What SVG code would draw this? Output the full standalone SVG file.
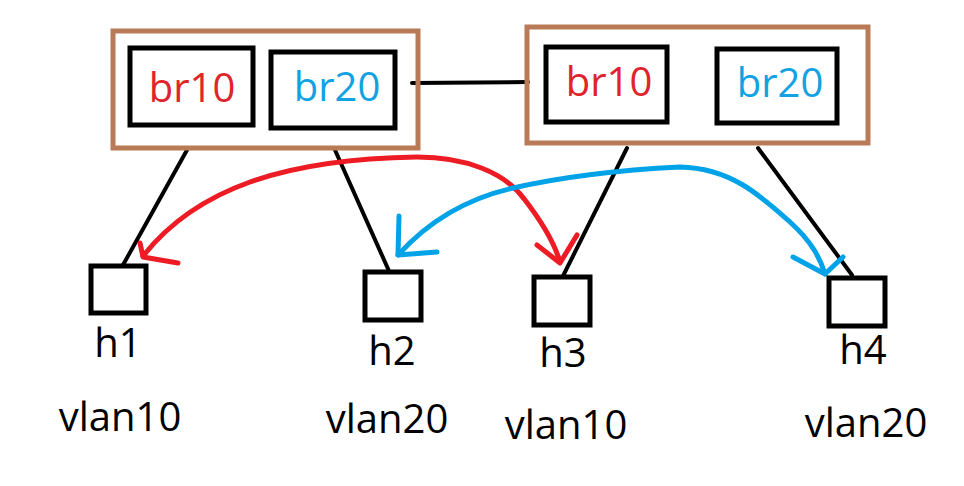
<svg xmlns="http://www.w3.org/2000/svg" width="964" height="486" viewBox="0 0 964 486">
<style>
.outer{fill:none;stroke:#B97A57;stroke-width:5}
.box{fill:#fff;stroke:#000;stroke-width:5}
.link{fill:none;stroke:#000;stroke-width:4;stroke-linecap:round}
.red{fill:none;stroke:#ED1C24;stroke-width:5;stroke-linecap:round;stroke-linejoin:round}
.blue{fill:none;stroke:#00A2E8;stroke-width:5;stroke-linecap:round;stroke-linejoin:round}
text{font-family:"Open Sans","Noto Sans","Liberation Sans",sans-serif;font-size:40px;text-anchor:middle}
.tr{fill:#E0242C}
.tb{fill:#12A2E2}
.tk{fill:#000}
</style>
<rect width="964" height="486" fill="#fff"/>
<g id="connectors">
<line class="link" x1="412" y1="83" x2="528" y2="82"/>
<line class="link" x1="187" y1="150" x2="123" y2="265"/>
<line class="link" x1="335" y1="150" x2="389" y2="271"/>
<line class="link" x1="627" y1="148" x2="562" y2="278"/>
<line class="link" x1="758" y1="148" x2="852" y2="275"/>
<path class="red" d="M143,256 C170,222 205,198 250,182 S350,158 417,157 C465,157 505,172 525,200 C545,226 555,245 560,262"/>
<path class="red" d="M140,243 L143,257 L178,263 M537,245 L560,263 L577,235"/>
<path class="blue" d="M398,255 C425,225 460,200 513,188 S620,170 680,167 C730,168 760,195 790,222 C812,242 820,258 825,274"/>
<path class="blue" d="M399,216 L398,255 L437,252 M793,257 L825,274 L843,257"/>
</g>
<g id="switch1">
<rect class="outer" x="113" y="31" width="305" height="117"/>
<g id="s1-br10"><rect class="box" x="130" y="48" width="123" height="77"/><text class="tr" x="192" y="102">br10</text></g>
<g id="s1-br20"><rect class="box" x="271" y="52" width="124" height="76"/><text class="tb" x="337" y="101">br20</text></g>
</g>
<g id="switch2">
<rect class="outer" x="527" y="27" width="341" height="116"/>
<g id="s2-br10"><rect class="box" x="546" y="47" width="121" height="75"/><text class="tr" x="609" y="96">br10</text></g>
<g id="s2-br20"><rect class="box" x="717" y="49" width="120" height="74"/><text class="tb" x="780" y="97">br20</text></g>
</g>
<g id="h1"><rect class="box" x="91" y="266" width="55" height="47"/><text class="tk" x="118" y="357">h1</text><text class="tk" x="120" y="431">vlan10</text></g>
<g id="h2"><rect class="box" x="365" y="272" width="56" height="48"/><text class="tk" x="392" y="365">h2</text><text class="tk" x="387" y="433">vlan20</text></g>
<g id="h3"><rect class="box" x="534" y="277" width="56" height="48"/><text class="tk" x="563" y="367">h3</text><text class="tk" x="566" y="439">vlan10</text></g>
<g id="h4"><rect class="box" x="829" y="278" width="56" height="48"/><text class="tk" x="863" y="364">h4</text><text class="tk" x="866" y="437">vlan20</text></g>
</svg>
